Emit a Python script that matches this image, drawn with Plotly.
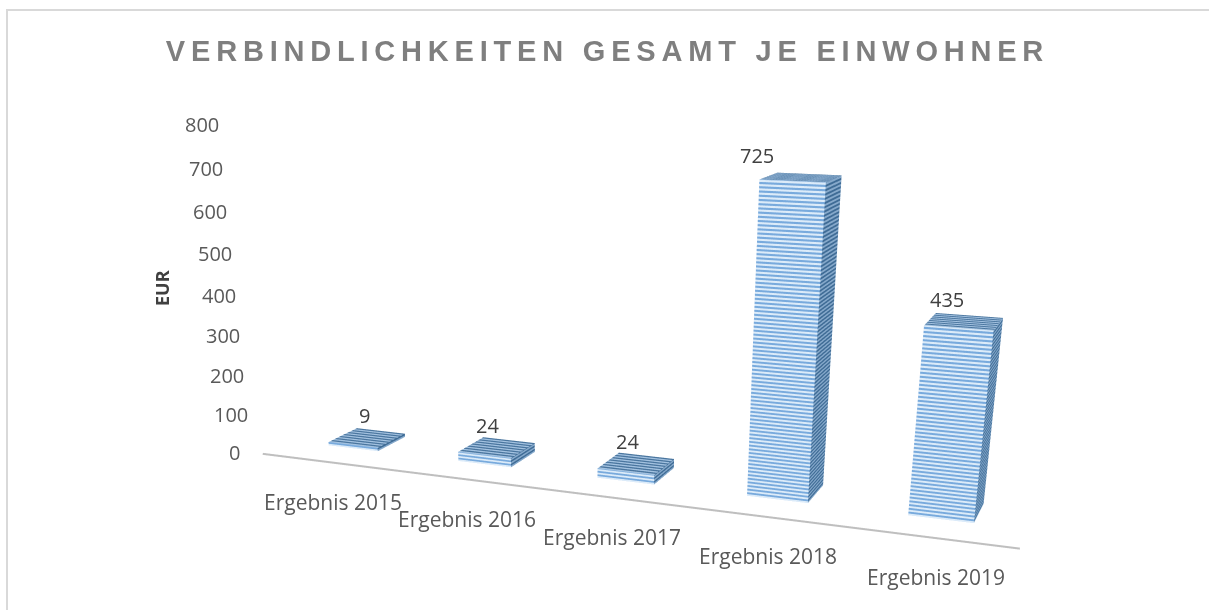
import numpy as np
import plotly.graph_objects as go

categories = ["Ergebnis 2015", "Ergebnis 2016", "Ergebnis 2017", "Ergebnis 2018", "Ergebnis 2019"]
values = [9, 24, 24, 725, 435]
ticks = [0, 100, 200, 300, 400, 500, 600, 700, 800]
title = "VERBINDLICHKEITEN GESAMT JE EINWOHNER"

# Layout: the page window is 1209x610; the 3D scene is taller so that its focal length fits the view.
W, H, HH = 1209, 610, 1220
XR, YR, ZR = (-1.5, 5.0), (-1.0, 3.0), (0, 800)
XS = 0.4
EYE = (1.5837, -3.3519, 0.7270)
CENTER = (0.1877, 0.1485, -0.8449)
KY, AZ, BW, Y0, YA = 0.1523, 0.8363, 0.3868, 1.0820, 0.1843
LABEL_DX = [-3, -9, -9, -44, -17]

V, I, J, K, FC = [], [], [], [], []
def quad(a, b, c, d, col):
    n = len(V)
    V.extend([a, b, c, d])
    I.extend([n, n]); J.extend([n + 1, n + 2]); K.extend([n + 2, n + 3]); FC.extend([col, col])

for i, v in enumerate(values):
    L, R = i + .5 - BW / 2, i + .5 + BW / 2
    F, B = Y0, Y0 + 1
    zs = np.append(np.arange(0, v, 4.5), v)
    for k in range(len(zs) - 1):
        z0, z1 = float(zs[k]), float(zs[k + 1])
        quad((L, F, z0), (R, F, z0), (R, F, z1), (L, F, z1), "#78AADD" if k % 2 else "#DCEBF9")
        quad((R, F, z0), (R, B, z0), (R, B, z1), (R, F, z1), "#3F6C96" if k % 2 else "#86A9CB")
    ys = np.linspace(F, B, 15)
    for k in range(14):
        quad((L, ys[k], v), (R, ys[k], v), (R, ys[k + 1], v), (L, ys[k + 1], v), "#4A769F" if k % 2 else "#A3C2E0")
V = np.array(V)

fig = go.Figure()
fig.add_trace(go.Mesh3d(x=V[:, 0], y=V[:, 1], z=V[:, 2], i=I, j=J, k=K, facecolor=FC, flatshading=True,
                        lighting=dict(ambient=1, diffuse=0, specular=0, fresnel=0, roughness=1),
                        showscale=False, hoverinfo="skip"))
fig.add_trace(go.Scatter3d(x=[0, 5], y=[YA, YA], z=[0, 0], mode="lines",
                           line=dict(color="#BFBFBF", width=4), hoverinfo="skip"))
ann = []
for i, v in enumerate(values):
    ann.append(dict(x=i + .5, y=Y0 + .5, z=v, text=str(v), showarrow=False, yshift=22, xshift=LABEL_DX[i],
                    font=dict(size=20, color="#404040", family="Open Sans")))
    ann.append(dict(x=i + .5, y=YA, z=0, text=categories[i], showarrow=False, yshift=-40, xshift=6,
                    font=dict(size=21, color="#595959", family="Open Sans")))
for t in ticks:
    ann.append(dict(x=-0.3, y=YA, z=t, text=str(t), showarrow=False, xshift=9, yshift=-3 + t * 0.0085,
                    font=dict(size=20, color="#595959", family="Open Sans")))

fig.update_layout(
    width=W, height=HH, margin=dict(l=0, r=0, t=0, b=0), paper_bgcolor="white", showlegend=False,
    title=dict(text=title, x=607.5 / W, xanchor="center", y=1 - 51 / HH, yanchor="middle",
               font=dict(size=29, color="#7F7F7F", family="Liberation Sans", weight="bold")),
    scene=dict(domain=dict(x=[0, 1], y=[0, 1]), bgcolor="white",
               xaxis=dict(visible=False, range=list(XR)),
               yaxis=dict(visible=False, range=list(YR)),
               zaxis=dict(visible=False, range=list(ZR)),
               aspectmode="manual",
               aspectratio=dict(x=XS * (XR[1] - XR[0]), y=KY * (YR[1] - YR[0]), z=AZ),
               camera=dict(eye=dict(x=EYE[0], y=EYE[1], z=EYE[2]),
                           center=dict(x=CENTER[0], y=CENTER[1], z=CENTER[2]),
                           up=dict(x=0, y=0, z=1)),
               annotations=ann),
    annotations=[dict(x=162 / W, y=1 - 288 / HH, xref="paper", yref="paper", xanchor="center", yanchor="middle",
                      text="<b>EUR</b>", textangle=-90, showarrow=False,
                      font=dict(size=18, color="#404040", family="Open Sans"))],
    shapes=[dict(type="path", xref="paper", yref="paper",
                 path=f"M {7/W} 0 L {7/W} {1-10/HH} L 1 {1-10/HH}",
                 line=dict(color="#D9D9D9", width=2))],
)
fig.write_html("out.html", config=dict(displayModeBar=False),
               post_script="document.documentElement.style.cssText='height:610px;overflow:hidden';"
                           "document.body.style.cssText='margin:0;height:610px;overflow:hidden';"
                           "document.querySelectorAll('.gtitle').forEach(function(e){e.style.letterSpacing='5.8px';});")
